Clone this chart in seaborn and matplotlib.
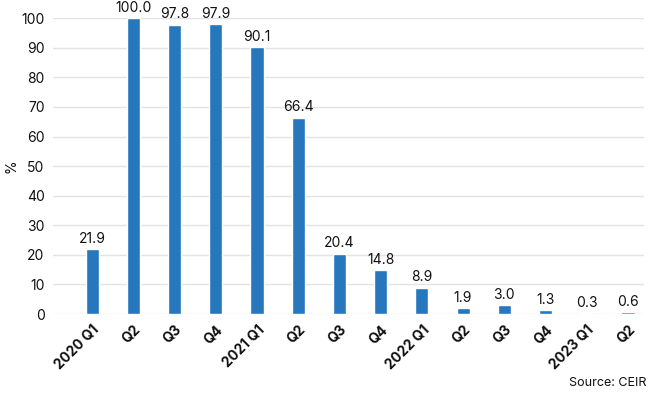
import numpy as np
import pandas as pd
import matplotlib
matplotlib.use("Agg")
import matplotlib.pyplot as plt
import seaborn as sns

quarters = ["2020 Q1", "Q2", "Q3", "Q4", "2021 Q1", "Q2", "Q3", "Q4",
            "2022 Q1", "Q2", "Q3", "Q4", "2023 Q1", "Q2"]
values = [21.9, 100.0, 97.8, 97.9, 90.1, 66.4, 20.4, 14.8,
          8.9, 1.9, 3.0, 1.3, 0.3, 0.6]
y_ticks = list(range(0, 101, 10))

df = pd.DataFrame({"quarter": range(len(quarters)), "value": values})

sns.set_theme(style="white")
plt.rcParams['font.family'] = ['Inter', 'DejaVu Sans']

fig = plt.figure(figsize=(6.5, 3.95), dpi=100)
ax = fig.add_axes([0.0815, 0.205, 0.91, 0.749])

sns.barplot(data=df, x="quarter", y="value", color="#2777BD", saturation=1,
            width=0.32, ax=ax)

for bar, v in zip(ax.patches, values):
    ax.text(bar.get_x() + bar.get_width() / 2, bar.get_height() + 1.2, f"{v:.1f}",
            ha="center", va="bottom", fontsize=10, color="#111111", clip_on=False)

ax.set_xlim(-0.95, 13.4)
ax.set_ylim(0, 100)
ax.set_yticks(y_ticks)
ax.set_yticklabels([str(t) for t in y_ticks], fontsize=10, color="#111111")
ax.set_xticks(range(len(quarters)))
ax.set_xticklabels(quarters, rotation=45, ha="right", rotation_mode="anchor",
                   fontsize=10, fontweight="bold", color="#111111")
ax.tick_params(axis="both", length=0, pad=6)
ax.grid(True, axis="y", color="#E3E3E3", linewidth=1)
ax.set_axisbelow(True)
for s in ax.spines.values():
    s.set_visible(False)
ax.set_xlabel("")
ax.set_ylabel("%", fontsize=10, color="#111111")
ax.yaxis.set_label_coords(-0.058, 0.5)

fig.text(0.995, 0.03, "Source: CEIR", ha="right", va="center", fontsize=9, color="#111111")

fig.savefig("out.png", dpi=100)
